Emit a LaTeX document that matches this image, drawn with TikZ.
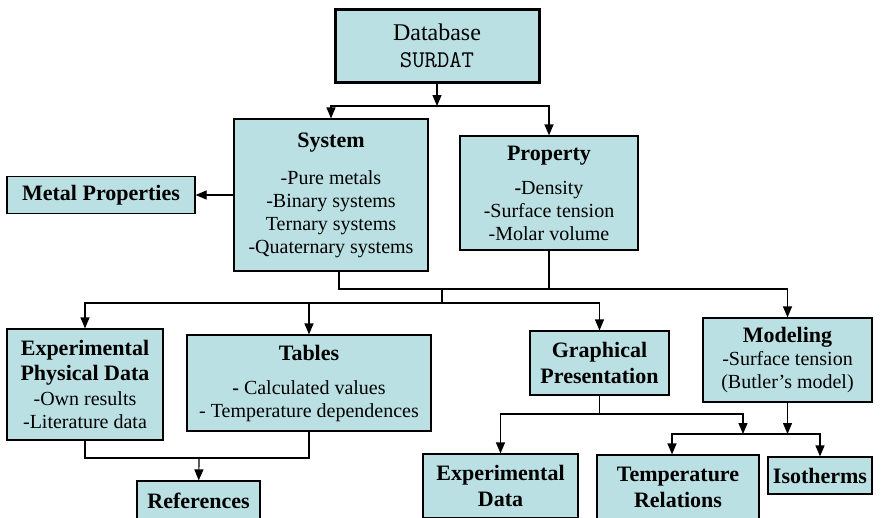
\documentclass[tikz,border=0pt]{standalone}
\usepackage{fontspec}
\setmainfont{Liberation Serif}[BoldFont={Liberation Serif Bold}]
\usetikzlibrary{arrows.meta}
\definecolor{boxcyan}{RGB}{186,224,227}
\newcommand{\ttl}[1]{{\fontsize{22}{23}\selectfont\bfseries #1}}

\begin{document}
\begin{tikzpicture}[x=1pt,y=-1pt,line width=1.2pt,>={Triangle[length=11pt,width=9pt]}]
\tikzstyle{every node}=[draw,fill=boxcyan,align=center,inner sep=0pt,font=\rmfamily\fontsize{20}{23}\selectfont]
\clip (0,0) rectangle (881,517);

\node[minimum width=204,minimum height=73,line width=3pt,font=\rmfamily\fontsize{24}{27}\selectfont](db) at (437,45.5) {Database\\{\ttfamily SURDAT}};
\node[minimum width=194,minimum height=152](sys) at (331,195) {\ttl{System}\\[14pt]-Pure metals\\-Binary systems\\Ternary systems\\-Quaternary systems};
\node[minimum width=188,minimum height=37](mp) at (101,195) {\ttl{Metal Properties}};
\node[minimum width=178,minimum height=114](prop) at (549,193) {\ttl{Property}\\[11pt]\textbf{-}Density\\-Surface tension\\-Molar volume};

\node[minimum width=156,minimum height=111](epd) at (85,384.5) {\ttl{Experimental}\\[2pt]\ttl{Physical Data}\\[2pt]-Own results\\-Literature data};
\node[minimum width=244,minimum height=96](tab) at (309,383) {\ttl{Tables}\\[11pt]\textbf{-} Calculated values\\- Temperature dependences};
\node[minimum width=139,minimum height=64](gp) at (599.5,363) {\ttl{Graphical}\\[3pt]\ttl{Presentation}};
\node[minimum width=169,minimum height=84](mod) at (787.5,360) {\ttl{Modeling}\\-Surface tension\\(Butler’s model)};

\node[minimum width=123,minimum height=40](ref) at (198.5,501) {\ttl{References}};
\node[minimum width=155,minimum height=64](ed) at (500.5,486) {\ttl{Experimental}\\[3pt]\ttl{Data}};
\node[minimum width=162,minimum height=64](tr) at (678,487) {\ttl{Temperature}\\[3pt]\ttl{Relations}};
\node[minimum width=104,minimum height=37](iso) at (820,475.5) {\ttl{Isotherms}};

\coordinate (j1) at (437,106);
\coordinate (j2) at (442,289);
\coordinate (j3) at (442,303);
\coordinate (j4) at (199,458);
\coordinate (j5) at (599.5,414);
\coordinate (j6) at (743,434);
\coordinate (j7) at (787.5,434);

\draw[->] (db) -- (j1);
\draw[->] (j1) -| (sys);
\draw[->] (j1) -| (prop);
\draw[->] (sys) -- (mp);

\draw ([xshift=8]sys.south) |- (j2);
\draw (prop.south) -- (prop.south |- j2);
\draw[->] (j2) -| (mod);
\draw (j2) -- (j3);
\draw[->] (j3) -| (epd);
\draw[->] (j3) -| (tab);
\draw[->] (j3) -| (gp);

\draw (epd.south) |- (j4) -| (tab.south);
\draw[->] (j4) -- (ref);

\draw (gp) -- (j5);
\draw[->] (j5) -| (ed);
\draw[->] (j5) -| (j6);
\draw[->] (mod) -- (j7);
\draw[->] (j7) -| ([xshift=-6]tr.north);
\draw[->] (j7) -| (iso);
\end{tikzpicture}
\end{document}
